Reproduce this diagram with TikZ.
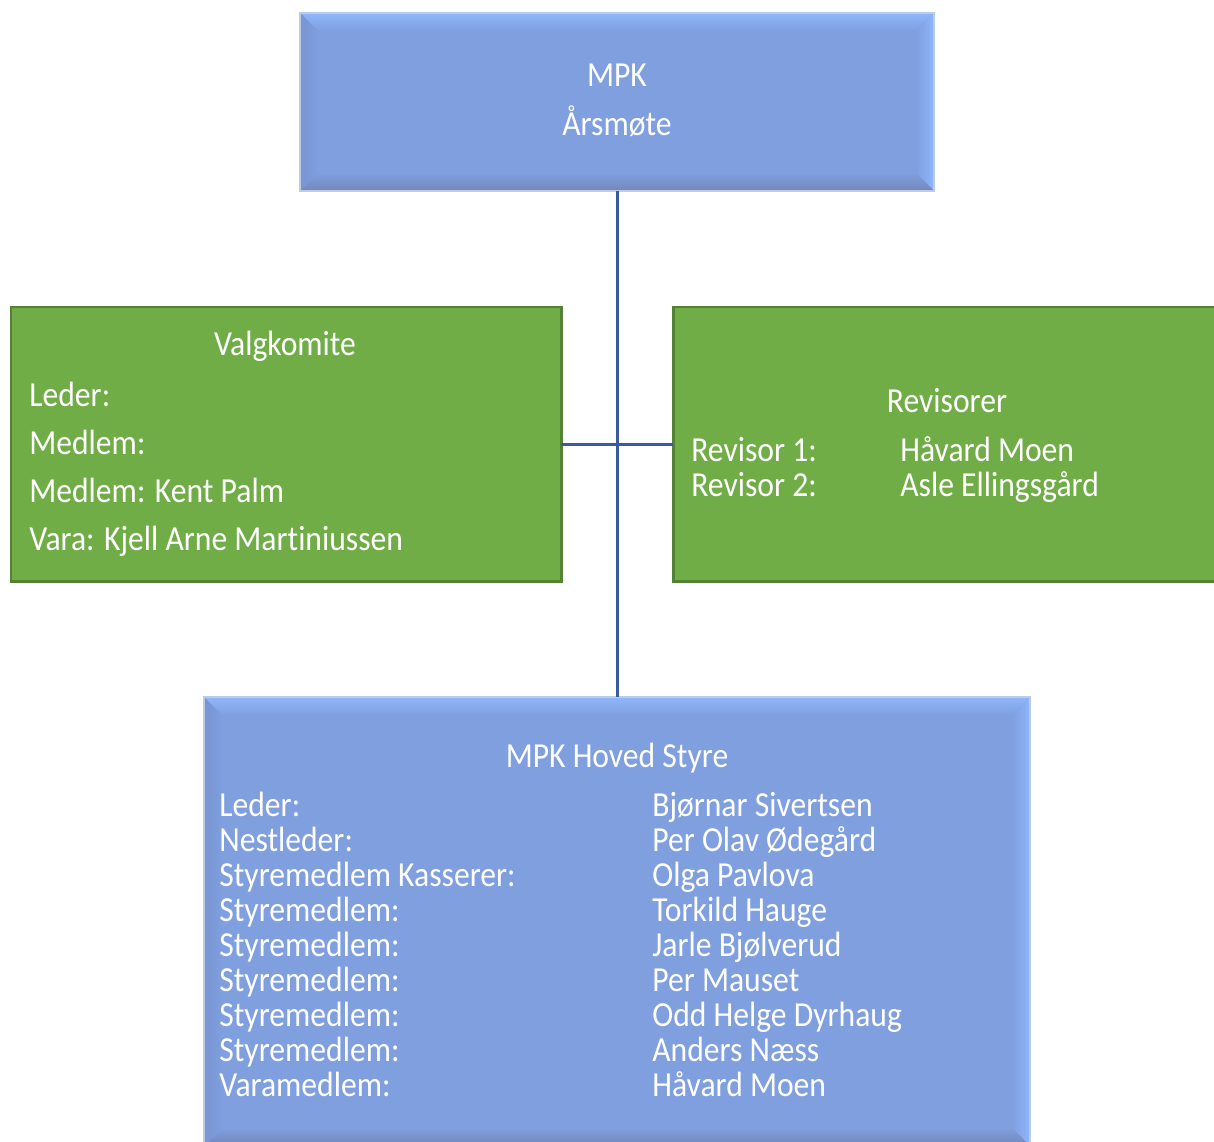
\documentclass[tikz,border=0pt]{standalone}
\usepackage{fontspec}
\setmainfont{Carlito}[FakeStretch=0.9, Ligatures=NoCommon]
\usetikzlibrary{calc,fit}
\definecolor{boxblue}{HTML}{7F9FDF}
\definecolor{blueedge}{HTML}{BCCBE6}
\definecolor{bevtop}{HTML}{90B6FC}
\definecolor{bevright}{HTML}{90B6FC}
\definecolor{bevleft}{HTML}{7893D0}
\definecolor{bevbottom}{HTML}{7387BA}
\definecolor{boxgreen}{HTML}{70AD47}
\definecolor{greenedge}{HTML}{548235}
\definecolor{linkblue}{HTML}{3A5C9E}
\tikzset{
 bluebox/.style={fill=boxblue, inner sep=0pt, outer sep=0pt},
 greenbox/.style={draw=greenedge, line width=0.06cm, fill=boxgreen, inner sep=0pt, outer sep=0pt},
 txt/.style={text=white, anchor=base west, inner sep=0pt, font=\fontsize{20}{24}\selectfont},
 ctxt/.style={txt, anchor=base},
 link/.style={draw=linkblue, line width=0.06cm}
}
\newcommand{\bevel}[1]{%
 \shade[top color=bevtop, bottom color=boxblue] (#1.north west) -- (#1.north east) -- ($(#1.north east)+(-18,18)$) -- ($(#1.north west)+(18,18)$) -- cycle;
 \shade[left color=bevleft, right color=boxblue] (#1.north west) -- ($(#1.north west)+(18,18)$) -- ($(#1.south west)+(18,-18)$) -- (#1.south west) -- cycle;
 \shade[left color=boxblue, right color=bevright] (#1.north east) -- ($(#1.north east)+(-18,18)$) -- ($(#1.south east)+(-18,-18)$) -- (#1.south east) -- cycle;
 \shade[top color=boxblue, bottom color=bevbottom] (#1.south west) -- ($(#1.south west)+(18,-18)$) -- ($(#1.south east)+(-18,-18)$) -- (#1.south east) -- cycle;
 \draw[blueedge, line width=0.04cm] (#1.north west) rectangle (#1.south east);}
\begin{document}
\begin{tikzpicture}[x=0.02cm, y=-0.02cm]
 \useasboundingbox (0,0) rectangle (1214,1142);
 \node[bluebox, fit={(300,13) (934,191)}] (aarsmote) {};
 \bevel{aarsmote}
 \node[greenbox, fit={(11,307) (561,581)}] (valg) {};
 \node[greenbox, fit={(673,307) (1240,581)}] (revis) {};
 \node[bluebox, fit={(204,697) (1030,1146)}] (hoved) {};
 \bevel{hoved}
 \draw[link] (aarsmote.south) -- (hoved.north);
 \draw[link] (valg.east) -- (revis.west);
 \node[ctxt] (mpk) at (617,87) {MPK};
 \node[ctxt] (aarsmtxt) at (617,136) {Årsmøte};
 \node[ctxt] (valgtitle) at (285,356) {Valgkomite};
 \node[txt] (valg1) at (29,406) {Leder:};
 \node[txt] (valg2) at (29,454) {Medlem:};
 \node[txt] (valg3) at (29,502) {Medlem: Kent Palm};
 \node[txt] (valg4) at (29,550) {Vara: Kjell Arne Martiniussen};
 \node[ctxt] (revtitle) at (947,412) {Revisorer};
 \node[txt] (rev1) at (691,461) {Revisor 1:};
 \node[txt] (revname1) at (900,461) {Håvard Moen};
 \node[txt] (rev2) at (691,496) {Revisor 2:};
 \node[txt] (revname2) at (900,496) {Asle Ellingsgård};
 \node[ctxt] (hovedtitle) at (617,767) {MPK Hoved Styre};
 \foreach \role/\who [count=\i from 0] in {Leder:/Bjørnar Sivertsen, Nestleder:/Per Olav Ødegård,
   Styremedlem Kasserer:/Olga Pavlova, Styremedlem:/Torkild Hauge, Styremedlem:/Jarle Bjølverud,
   Styremedlem:/Per Mauset, Styremedlem:/Odd Helge Dyrhaug, Styremedlem:/Anders Næss,
   Varamedlem:/Håvard Moen}{
   \node[txt] (role\i) at (219,816+35.1*\i) {\role};
   \node[txt] (who\i) at (652,816+35.1*\i) {\who};
 }
\end{tikzpicture}
\end{document}
